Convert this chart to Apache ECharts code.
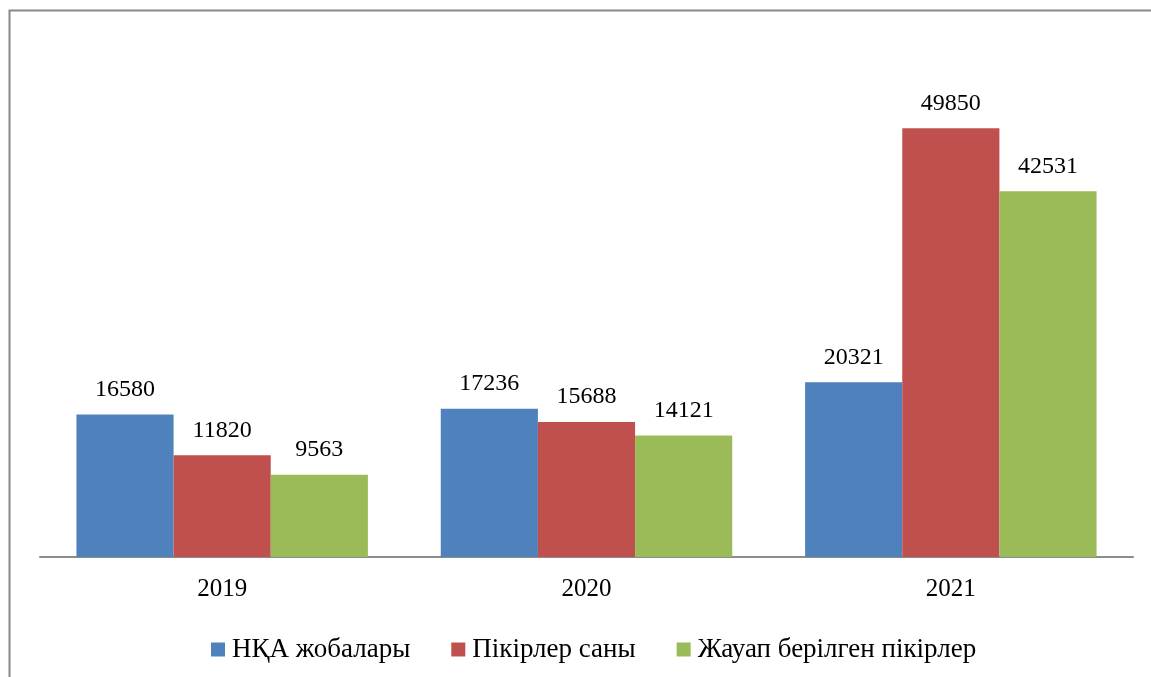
<!DOCTYPE html>
<html>
<head>
<meta charset="utf-8">
<script src="https://cdn.jsdelivr.net/npm/echarts@6/dist/echarts.min.js"></script>
<style>html,body{margin:0;padding:0;background:#fff;}#chart{width:1151px;height:677px;}</style>
</head>
<body>
<div id="chart"></div>
<script>
const categories = ['2019', '2020', '2021'];
const seriesNames = ['НҚА жобалары', 'Пікірлер саны', 'Жауап берілген пікірлер'];
const npaProjects = [16580, 17236, 20321];
const commentsCount = [11820, 15688, 49850];
const answeredComments = [9563, 14121, 42531];
const colors = ['#4f81bd', '#c0504d', '#9bbb59'];

const font = '"Liberation Serif", "DejaVu Serif", serif';
const chart = echarts.init(document.getElementById('chart'), null, {renderer: 'canvas'});
const mk = (name, data, color) => ({
  name: name, type: 'bar', data: data, barGap: '0%', barCategoryGap: '20%',
  itemStyle: {color: color},
  label: {show: true, position: 'top', distance: 13, color: '#000', fontFamily: font, fontSize: 24},
  emphasis: {disabled: true}
});
chart.setOption({
  animation: false,
  backgroundColor: '#fff',
  graphic: [{type: 'rect', shape: {x: 9.5, y: 10.5, width: 1300, height: 800}, style: {fill: 'none', stroke: '#888', lineWidth: 2}, silent: true}],
  legend: {
    data: seriesNames, top: 631, left: 206, itemWidth: 14, itemHeight: 14, itemGap: 41,
    icon: 'rect', textStyle: {fontFamily: font, fontSize: 27, color: '#000', padding: [0, 0, 0, 2]}
  },
  grid: {left: 40, right: 18, top: 41, bottom: 120, containLabel: false},
  xAxis: {
    type: 'category', data: categories,
    axisLine: {lineStyle: {color: '#8c8c8c', width: 2}},
    axisTick: {show: false},
    axisLabel: {fontFamily: font, fontSize: 25, color: '#000', margin: 20}
  },
  yAxis: {type: 'value', min: 0, max: 60000, show: false, splitLine: {show: false}},
  series: [
    mk(seriesNames[0], npaProjects, colors[0]),
    mk(seriesNames[1], commentsCount, colors[1]),
    mk(seriesNames[2], answeredComments, colors[2])
  ]
});
</script>
</body>
</html>
